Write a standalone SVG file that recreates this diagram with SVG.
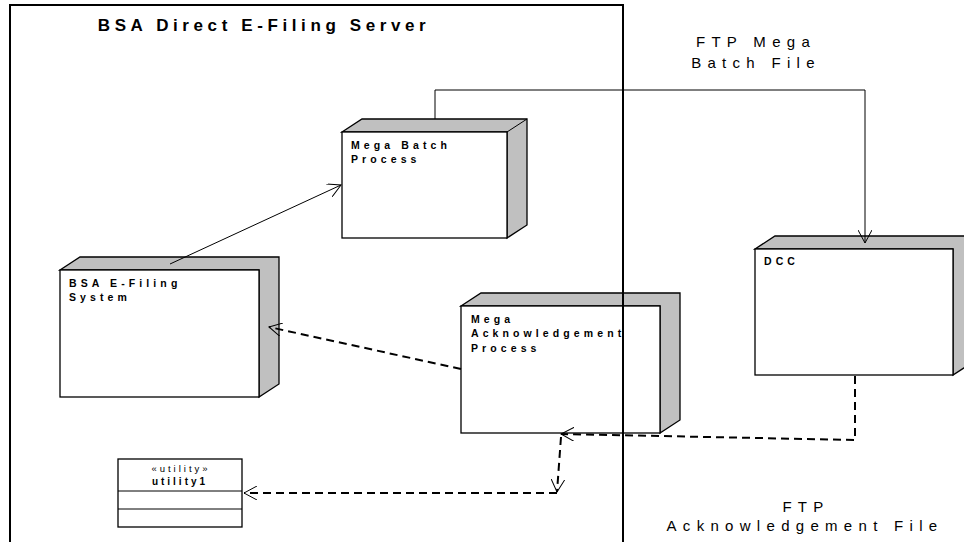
<svg xmlns="http://www.w3.org/2000/svg" width="964" height="542" viewBox="0 0 964 542">
<defs>
<style>
.ln{fill:none;stroke:#000;stroke-width:1}
.dash{fill:none;stroke:#000;stroke-width:2;stroke-dasharray:8,5}
.front{fill:#fff;stroke:#000;stroke-width:1.3}
.side{fill:#c0c0c0;stroke:#000;stroke-width:1.3}
.nl{font-family:"Liberation Sans",Arial,sans-serif;font-weight:bold;font-size:10.5px;letter-spacing:4.1px;fill:#000}
.lbl{font-family:"Liberation Sans",Arial,sans-serif;font-size:15px;letter-spacing:6.3px;fill:#000}
</style>
<marker id="open" viewBox="0 0 14 14" refX="13" refY="7" markerWidth="14" markerHeight="14" markerUnits="userSpaceOnUse" orient="auto">
<path d="M0,0 L13,7 L0,14" fill="none" stroke="#000" stroke-width="1"/>
</marker>
</defs>
<rect width="964" height="542" fill="#fff"/>
<g id="server">
<path d="M10,542 V5 H623 V542" fill="none" stroke="#000" stroke-width="2"/>
<text x="264" y="31" text-anchor="middle" font-family="Liberation Sans,Arial,sans-serif" font-weight="bold" font-size="17" letter-spacing="4.6">BSA Direct E-Filing Server</text>
</g>
<g id="mega-batch">
<polygon class="side" points="342,132 362,119 527,119 527,225 507,238 507,132"/>
<line class="ln" x1="507" y1="132" x2="527" y2="119"/>
<rect class="front" x="342" y="132" width="165" height="106"/>
<text class="nl" x="351" y="149">Mega Batch</text>
<text class="nl" x="351" y="163">Process</text>
</g>
<g id="bsa-efiling">
<polygon class="side" points="60,270 80,257 279,257 279,384 259,397 259,270"/>
<rect class="front" x="60" y="270" width="199" height="127"/>
<text class="nl" x="69" y="287">BSA E-Filing</text>
<text class="nl" x="69" y="301">System</text>
</g>
<g id="mega-ack">
<polygon class="side" points="461,306 481,293 680,293 680,420 660,433 660,306"/>
<rect class="front" x="461" y="306" width="199" height="127"/>
<text class="nl" x="471" y="323">Mega</text>
<text class="nl" x="471" y="337">Acknowledgement</text>
<text class="nl" x="471" y="352">Process</text>
</g>
<line x1="623" y1="285" x2="623" y2="542" stroke="#000" stroke-width="2"/>
<g id="dcc">
<polygon class="side" points="755,249 775,236 973,236 973,362 953,375 953,249"/>
<rect class="front" x="755" y="249" width="198" height="126"/>
<text class="nl" x="764" y="265">DCC</text>
</g>
<g id="utility1">
<rect class="front" x="118" y="459" width="124" height="68"/>
<line class="ln" x1="118" y1="491" x2="242" y2="491"/>
<line class="ln" x1="118" y1="509" x2="242" y2="509"/>
<text x="181" y="472" text-anchor="middle" font-family="Liberation Sans,Arial,sans-serif" font-size="9.5" letter-spacing="3">«utility»</text>
<text x="180" y="485" text-anchor="middle" font-family="Liberation Sans,Arial,sans-serif" font-weight="bold" font-size="10" letter-spacing="3">utility1</text>
</g>
<g id="connectors">
<line class="ln" x1="170" y1="264" x2="341" y2="185" marker-end="url(#open)"/>
<path class="ln" d="M435,119 V90 H865 V243" marker-end="url(#open)"/>
<line class="dash" x1="461" y1="369" x2="269" y2="327" marker-end="url(#open)"/>
<path class="dash" d="M855,376 V440 L561,434" marker-end="url(#open)"/>
<line class="dash" x1="561" y1="437" x2="557" y2="492" marker-end="url(#open)"/>
<line class="dash" x1="557" y1="493" x2="244" y2="493" marker-end="url(#open)"/>
<text class="lbl" x="756" y="47" text-anchor="middle">FTP Mega</text>
<text class="lbl" x="756" y="68" text-anchor="middle">Batch File</text>
<text class="lbl" x="806" y="512" text-anchor="middle">FTP</text>
<text class="lbl" x="805" y="531" text-anchor="middle">Acknowledgement File</text>
</g>
</svg>
